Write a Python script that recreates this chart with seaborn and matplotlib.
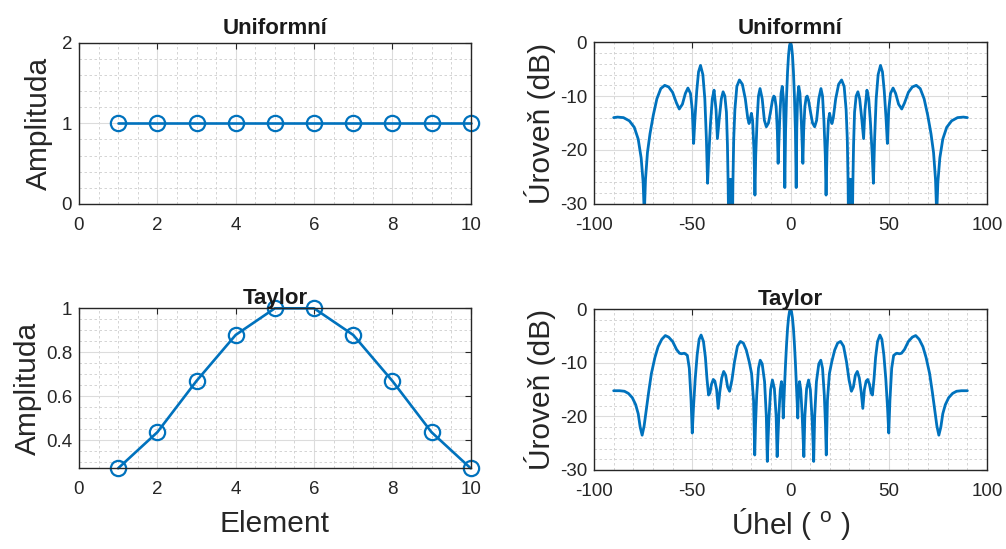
import matplotlib
matplotlib.use("Agg")
import matplotlib.pyplot as plt
from matplotlib.ticker import MultipleLocator
import numpy as np
import pandas as pd
import seaborn as sns

# ---- element excitations ----
element = [1, 2, 3, 4, 5, 6, 7, 8, 9, 10]
amp_uniform = [1, 1, 1, 1, 1, 1, 1, 1, 1, 1]
amp_taylor = [0.273, 0.437, 0.670, 0.879, 1.0, 1.0, 0.879, 0.670, 0.437, 0.273]

# ---- radiation patterns (angle in degrees, level in dB) ----
angle_uniform = [
    -90.0, -88.0, -85.0, -82.0, -79.5, -77.5, -76.0, -75.0, -74.4, -73.8, -72.8, -71.5, -69.8, -68.0,
    -66.0, -64.0, -62.0, -60.0, -58.0, -56.6, -55.0, -53.5, -52.2, -50.9, -50.0, -49.3, -48.6, -47.7,
    -46.8, -45.8, -44.6, -43.6, -42.8, -42.2, -41.6, -40.7, -39.8, -38.9, -37.9, -37.2, -36.2, -35.2,
    -34.3, -33.4, -32.6, -32.1, -31.75, -31.5, -31.25, -31.0, -30.75, -30.5, -30.25, -30.0, -29.75,
    -29.5, -29.3, -28.9, -28.3, -27.3, -26.0, -24.5, -23.0, -21.8, -21.1, -20.5, -19.9, -19.3, -18.6,
    -18.1, -17.7, -17.0, -16.3, -15.5, -14.4, -13.3, -12.3, -11.2, -10.2, -9.2, -8.5, -8.0, -7.3, -6.7,
    -6.3, -6.0, -5.4, -4.8, -4.2, -3.6, -3.2, -2.9, -2.5, -2.0, -1.5, -1.0, -0.5,
    0.0, 0.5, 1.0, 1.5, 2.0, 2.5, 2.9, 3.2, 3.6, 4.2, 4.8, 5.4, 6.0, 6.3, 6.7, 7.3, 8.0, 8.5, 9.2,
    10.2, 11.2, 12.3, 13.3, 14.4, 15.5, 16.3, 17.0, 17.7, 18.1, 18.6, 19.3, 19.9, 20.5, 21.1, 21.8,
    23.0, 24.5, 26.0, 27.3, 28.3, 28.9, 29.3, 29.5, 29.75, 30.0, 30.25, 30.5, 30.75, 31.0, 31.25,
    31.5, 31.75, 32.1, 32.6, 33.4, 34.3, 35.2, 36.2, 37.2, 37.9, 38.9, 39.8, 40.7, 41.6, 42.2, 42.8,
    43.6, 44.6, 45.8, 46.8, 47.7, 48.6, 49.3, 50.0, 50.9, 52.2, 53.5, 55.0, 56.6, 58.0, 60.0, 62.0,
    64.0, 66.0, 68.0, 69.8, 71.5, 72.8, 73.8, 74.4, 75.0, 76.0, 77.5, 79.5, 82.0, 85.0, 88.0, 90.0,
]
level_uniform = [
    -14.0, -13.9, -14.0, -14.6, -15.8, -18.0, -21.5, -26.0, -32.0, -25.5, -20.5, -17.0, -13.5, -10.5,
    -8.6, -8.0, -8.3, -9.3, -11.3, -12.4, -11.5, -9.5, -8.5, -9.5, -12.5, -18.8, -14.0, -9.0,
    -5.5, -4.3, -6.0, -10.5, -18.0, -26.2, -21.0, -15.0, -10.5, -8.9, -12.5, -17.9, -14.0, -10.5,
    -9.2, -10.0, -13.0, -19.0, -26.0, -33.0, -25.5, -33.0, -25.5, -33.0, -25.5, -33.0, -25.5,
    -33.0, -26.0, -18.0, -12.5, -8.2, -7.0, -7.8, -10.5, -14.0, -15.1, -14.3, -13.2, -14.5, -20.0,
    -28.4, -21.0, -14.5, -10.0, -8.6, -10.5, -14.5, -15.7, -15.0, -13.0, -10.8, -10.0, -10.2, -12.0, -16.5,
    -22.5, -19.5, -13.5, -9.5, -8.2, -10.5, -16.0, -27.0, -16.5, -10.0, -5.5, -2.4, -0.6,
    0.0, -0.6, -2.4, -5.5, -10.0, -16.5, -27.0, -16.0, -10.5, -8.2, -9.5, -13.5, -19.5, -22.5, -16.5, -12.0, -10.2, -10.0, -10.8,
    -13.0, -15.0, -15.7, -14.5, -10.5, -8.6, -10.0, -14.5, -21.0, -28.4, -20.0, -14.5, -13.2, -14.3, -15.1, -14.0,
    -10.5, -7.8, -7.0, -8.2, -12.5, -18.0, -26.0, -33.0, -25.5, -33.0, -25.5, -33.0, -25.5, -33.0, -25.5,
    -33.0, -26.0, -19.0, -13.0, -10.0, -9.2, -10.5, -14.0, -17.9, -12.5, -8.9, -10.5, -15.0, -21.0, -26.2, -18.0,
    -10.5, -6.0, -4.3, -5.5, -9.0, -14.0, -18.8, -12.5, -9.5, -8.5, -9.5, -11.5, -12.4, -11.3, -9.3, -8.3,
    -8.0, -8.6, -10.5, -13.5, -17.0, -20.5, -25.5, -32.0, -26.0, -21.5, -18.0, -15.8, -14.6, -14.0, -13.9, -14.0,
]

angle_taylor = [
    -90.0, -87.0, -84.5, -82.5, -80.5, -78.8, -77.5, -76.5, -75.5, -74.5, -73.5, -72.2, -70.8, -69.0,
    -67.4, -65.5, -63.7, -62.0, -60.0, -58.0, -56.5, -55.5, -54.0, -52.5, -51.5, -50.6, -50.0, -49.4,
    -48.5, -47.5, -46.5, -45.5, -44.3, -43.3, -42.5, -41.7, -41.0, -40.2, -39.3, -38.5, -37.6, -36.8,
    -36.0, -35.0, -34.0, -33.0, -32.0, -31.0, -29.8, -28.5, -27.0, -25.5, -24.0, -22.5, -21.0, -19.8,
    -18.8, -18.2, -17.8, -17.2, -16.3, -15.4, -14.4, -13.2, -12.3, -11.8, -11.5, -11.0, -10.1, -9.2,
    -8.2, -7.3, -6.8, -6.5, -5.9, -5.2, -4.6, -4.1, -3.7, -3.4, -3.0, -2.5, -2.0, -1.5, -1.0, -0.5,
    0.0, 0.5, 1.0, 1.5, 2.0, 2.5, 3.0, 3.4, 3.7, 4.1, 4.6, 5.2, 5.9, 6.5, 6.8, 7.3, 8.2, 9.2, 10.1,
    11.0, 11.5, 11.8, 12.3, 13.2, 14.4, 15.4, 16.3, 17.2, 17.8, 18.2, 18.8, 19.8, 21.0, 22.5, 24.0,
    25.5, 27.0, 28.5, 29.8, 31.0, 32.0, 33.0, 34.0, 35.0, 36.0, 36.8, 37.6, 38.5, 39.3, 40.2, 41.0,
    41.7, 42.5, 43.3, 44.3, 45.5, 46.5, 47.5, 48.5, 49.4, 50.0, 50.6, 51.5, 52.5, 54.0, 55.5, 56.5,
    58.0, 60.0, 62.0, 63.7, 65.5, 67.4, 69.0, 70.8, 72.2, 73.5, 74.5, 75.5, 76.5, 77.5, 78.8, 80.5,
    82.5, 84.5, 87.0, 90.0,
]
level_taylor = [
    -15.2, -15.2, -15.3, -15.7, -16.5, -17.8, -19.5, -22.0, -23.5, -21.8, -19.0, -15.5, -12.0, -9.0,
    -7.0, -5.6, -4.9, -5.2, -6.0, -7.5, -8.2, -8.3, -8.2, -8.6, -11.0, -17.0, -23.1, -18.5,
    -13.0, -8.5, -5.6, -4.8, -6.0, -9.0, -13.0, -16.0, -15.6, -14.0, -13.1, -13.4, -15.0, -18.5,
    -15.5, -12.8, -11.6, -12.3, -14.5, -15.3, -13.2, -9.8, -6.9, -6.0, -6.3, -7.6, -9.8, -12.0,
    -17.0, -27.2, -21.5, -16.0, -11.0, -9.5, -10.2, -13.5, -20.0, -28.4, -25.0, -20.5, -15.0, -13.2,
    -14.8, -20.0, -27.5, -25.0, -19.5, -15.0, -13.5, -15.0, -20.3, -17.5, -14.0, -10.0, -6.5, -3.6, -1.6, -0.4,
    0.0, -0.4, -1.6, -3.6, -6.5, -10.0, -14.0, -17.5, -20.3, -15.0, -13.5, -15.0, -19.5, -25.0, -27.5, -20.0, -14.8, -13.2, -15.0,
    -20.5, -25.0, -28.4, -20.0, -13.5, -10.2, -9.5, -11.0, -16.0, -21.5, -27.2, -17.0, -12.0, -9.8, -7.6, -6.3,
    -6.0, -6.9, -9.8, -13.2, -15.3, -14.5, -12.3, -11.6, -12.8, -15.5, -18.5, -15.0, -13.4, -13.1, -14.0, -15.6,
    -16.0, -13.0, -9.0, -6.0, -4.8, -5.6, -8.5, -13.0, -18.5, -23.1, -17.0, -11.0, -8.6, -8.2, -8.3, -8.2,
    -7.5, -6.0, -5.2, -4.9, -5.6, -7.0, -9.0, -12.0, -15.5, -19.0, -21.8, -23.5, -22.0, -19.5, -17.8, -16.5,
    -15.7, -15.3, -15.2, -15.2,
]

titles = ["Uniformní", "Taylor"]

# ---- styling ----
sns.set_style("white")
plt.rcParams["font.family"] = ["Liberation Sans", "DejaVu Sans"]
plt.rcParams["axes.unicode_minus"] = False
plt.rcParams["mathtext.fontset"] = "custom"
plt.rcParams["mathtext.rm"] = "Liberation Sans"
plt.rcParams["mathtext.it"] = "Liberation Sans"

BLUE = "#0072BD"
AXC = "#262626"
TICK_FS = 13.5
LABEL_FS = 21.5
TITLE_FS = 16

fig = plt.figure(figsize=(10.06, 5.49), dpi=100)
W, H = 1006.0, 549.0


def add_axes_px(left, right, top, bottom):
    return fig.add_axes([left / W, (H - bottom) / H, (right - left) / W, (bottom - top) / H])


def style_axes(ax, xmaj, xmin, ymaj, ymin):
    ax.xaxis.set_major_locator(MultipleLocator(xmaj))
    ax.xaxis.set_minor_locator(MultipleLocator(xmin))
    ax.yaxis.set_major_locator(MultipleLocator(ymaj))
    ax.yaxis.set_minor_locator(MultipleLocator(ymin))
    ax.grid(True, which="major", color="#dcdcdc", linewidth=0.8, linestyle="-")
    ax.grid(True, which="minor", color="#cdcdcd", linewidth=0.6, linestyle=(0, (3, 3)))
    ax.set_axisbelow(True)
    for s in ax.spines.values():
        s.set_visible(True)
        s.set_color(AXC)
        s.set_linewidth(1.0)
    ax.tick_params(which="major", direction="in", length=4, width=0.8, color=AXC,
                   labelsize=TICK_FS, labelcolor=AXC, top=True, right=True, pad=5)
    ax.tick_params(axis="x", which="major", pad=9.5)
    ax.tick_params(which="minor", direction="in", length=0, top=True, right=True)
    ax.set_xlabel("")
    ax.set_ylabel("")


def fmt_num(v, _pos=None):
    s = f"{v:.1f}"
    if s.endswith(".0"):
        s = s[:-2]
    return s


marker_kw = dict(marker="o", markersize=11, markerfacecolor="none",
                 markeredgecolor=BLUE, markeredgewidth=1.6, clip_on=False)

# ---- element amplitude panels ----
ax1 = add_axes_px(79, 470.7, 42.7, 204)
sns.lineplot(x=element, y=amp_uniform, ax=ax1, color=BLUE, linewidth=1.9,
             estimator=None, sort=False, **marker_kw)
ax1.set_xlim(0, 10)
ax1.set_ylim(0, 2)
style_axes(ax1, 2, 0.5, 1, 0.2)
ax1.set_title(titles[0], fontsize=TITLE_FS, fontweight="bold", color="#1a1a1a", pad=6)
ax1.set_ylabel("Amplituda", fontsize=LABEL_FS, color=AXC, labelpad=6)

ax3 = add_axes_px(79, 470.7, 308.3, 468.3)
sns.lineplot(x=element, y=amp_taylor, ax=ax3, color=BLUE, linewidth=1.9,
             estimator=None, sort=False, **marker_kw)
ax3.set_xlim(0, 10)
ax3.set_ylim(min(amp_taylor), max(amp_taylor))
style_axes(ax3, 2, 0.5, 0.2, 0.05)
ax3.yaxis.set_major_formatter(fmt_num)
ax3.set_title(titles[1], fontsize=TITLE_FS, fontweight="bold", color="#1a1a1a", pad=3)
ax3.set_ylabel("Amplituda", fontsize=LABEL_FS, color=AXC, labelpad=3)
ax3.set_xlabel("Element", fontsize=LABEL_FS, color=AXC, labelpad=8)

# ---- radiation pattern panels ----
ax2 = add_axes_px(594, 987, 42.3, 203.7)
sns.lineplot(x=angle_uniform, y=level_uniform, ax=ax2, color=BLUE, linewidth=2.0,
             estimator=None, sort=False)
ax2.set_xlim(-100, 100)
ax2.set_ylim(-30, 0)
style_axes(ax2, 50, 10, 10, 2)
ax2.set_title(titles[0], fontsize=TITLE_FS, fontweight="bold", color="#1a1a1a", pad=6)
ax2.set_ylabel("Úroveň (dB)", fontsize=LABEL_FS, color=AXC, labelpad=3)

ax4 = add_axes_px(594, 987, 309.3, 470)
sns.lineplot(x=angle_taylor, y=level_taylor, ax=ax4, color=BLUE, linewidth=2.0,
             estimator=None, sort=False)
ax4.set_xlim(-100, 100)
ax4.set_ylim(-30, 0)
style_axes(ax4, 50, 10, 10, 2)
ax4.set_title(titles[1], fontsize=TITLE_FS, fontweight="bold", color="#1a1a1a", pad=3)
ax4.set_ylabel("Úroveň (dB)", fontsize=LABEL_FS, color=AXC, labelpad=3)
ax4.set_xlabel(r"Úhel ( $^{\mathrm{o}}$ )", fontsize=LABEL_FS, color=AXC, labelpad=4)

fig.savefig("out.png", dpi=100)
